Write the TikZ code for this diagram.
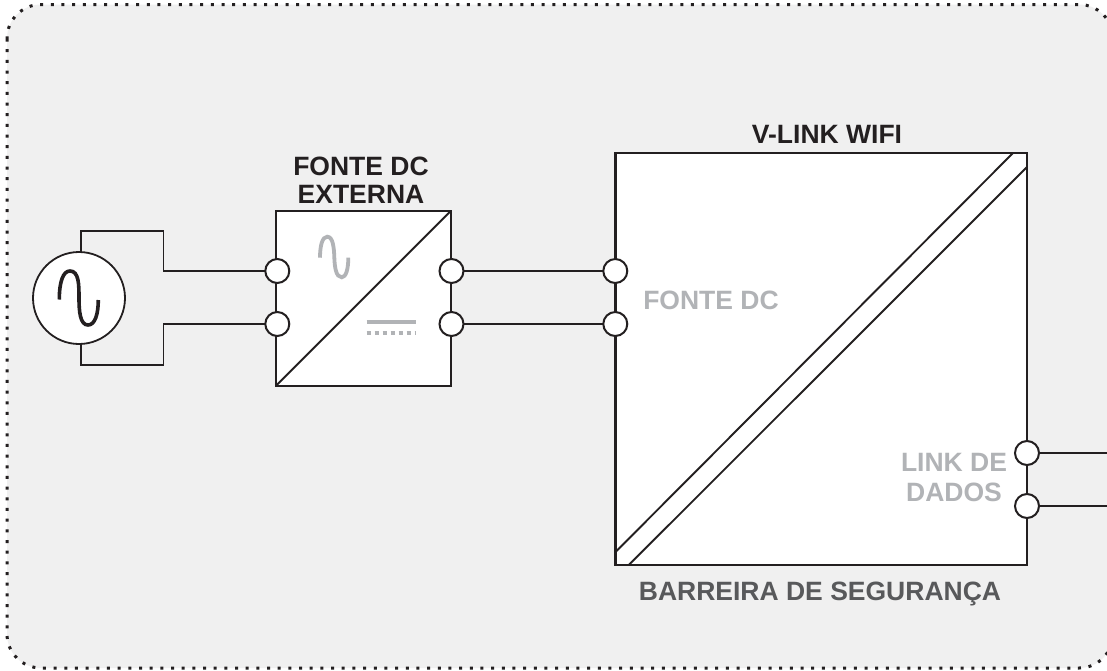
\documentclass[tikz,border=0pt]{standalone}
\usepackage{fontspec}
\setmainfont{Liberation Sans}
\definecolor{ink}{HTML}{231F20}
\definecolor{panel}{HTML}{F0F0F0}
\definecolor{soft}{HTML}{B1B3B6}
\definecolor{mid}{HTML}{58595B}
\tikzset{
  wire/.style={draw=ink,line width=1.9pt},
  unitbox/.style={draw=ink,fill=white,line width=2.1pt,inner sep=0pt,outer sep=0pt},
  port/.style={circle,draw=ink,fill=white,line width=2pt,minimum size=24pt,inner sep=0pt,outer sep=0pt},
  label/.style={font=\bfseries\fontsize{26.5}{30}\selectfont,align=center,inner sep=0pt},
}
\begin{document}
\begin{tikzpicture}[x=1pt,y=-1pt]
\useasboundingbox (0,0) rectangle (1107,670);
% panel
\clip (0,0) rectangle (1107,670);
\fill[white] (0,0) rectangle (1107,670);
\draw[fill=panel,draw=ink,line width=3pt,dash pattern=on 3pt off 7.67pt,rounded corners=34pt] (7,4.5) rectangle (1113,668);
% units
\node[unitbox,anchor=north west,minimum width=175pt,minimum height=175pt] (dcbox) at (276,210.7) {};
\node[unitbox,anchor=north west,minimum width=411.5pt,minimum height=412.3pt] (vlink) at (615.5,153) {};
\draw[wire] (dcbox.south west) -- (dcbox.north east);
\coordinate (va) at (615.5,552);
\coordinate (vb) at (1013,153);
\coordinate (vc) at (628.5,565.3);
\coordinate (vd) at (1027,167);
\draw[wire] (va) -- (vb);
\draw[wire] (vc) -- (vd);
% source
\coordinate (n1) at (163.5,231);
\coordinate (n2) at (163.5,365);
\node[circle,draw=ink,fill=white,line width=1.8pt,minimum size=92pt,inner sep=0pt,outer sep=0pt] (src) at (79,298) {};
\draw[draw=ink,line width=3.6pt] (59.3,299.5) .. controls (59.3,282) and (63,271) .. (70,271) .. controls (79,271) and (79,285) .. (79,298) .. controls (79,311) and (80,325) .. (88,325) .. controls (95,325) and (98.3,314) .. (98.3,300);
% grey glyphs
\draw[draw=soft,line width=3.8pt] (320,257.7) .. controls (320,245) and (322.5,236.7) .. (327.3,236.7) .. controls (333,236.7) and (334,248) .. (334.3,257) .. controls (334.6,267) and (336,277.3) .. (341.7,277.3) .. controls (346,277.3) and (348.3,269) .. (348.3,257.7);
\draw[draw=soft,line width=4pt] (366.7,321.7) -- (416,321.7);
\draw[draw=soft,line width=4pt,dash pattern=on 4pt off 4pt] (366.7,332.7) -- (416,332.7);
% ports
\coordinate (e1) at (1107,453);
\coordinate (e2) at (1107,506);
\node[port] (s1) at (277.3,271) {};
\node[port] (s2) at (277.3,324) {};
\node[port] (o1) at (451.5,271) {};
\node[port] (o2) at (451.5,324) {};
\node[port] (i1) at (615.3,271) {};
\node[port] (i2) at (615.3,324) {};
\node[port] (d1) at (1027,453) {};
\node[port] (d2) at (1027,506) {};
% wires
\draw[wire] (src.87) |- (n1) |- (s1.west);
\draw[wire] (src.-87) |- (n2) |- (s2.west);
\draw[wire] (o1.east) -- (i1.west);
\draw[wire] (o2.east) -- (i2.west);
\draw[wire] (d1.east) -- (e1);
\draw[wire] (d2.east) -- (e2);
% labels
\node[label,text=ink] (t1) at (361,180) {FONTE DC\\[-2pt]EXTERNA};
\node[label,text=ink] (t2) at (827,134) {V-LINK WIFI};
\node[label,text=soft] (t3) at (711,300) {FONTE DC};
\node[label,text=soft] (t4) at (954,478) {LINK DE\\DADOS};
\node[label,text=mid] (t5) at (820,594) {BARREIRA DE SEGURANÇA};
\end{tikzpicture}
\end{document}
